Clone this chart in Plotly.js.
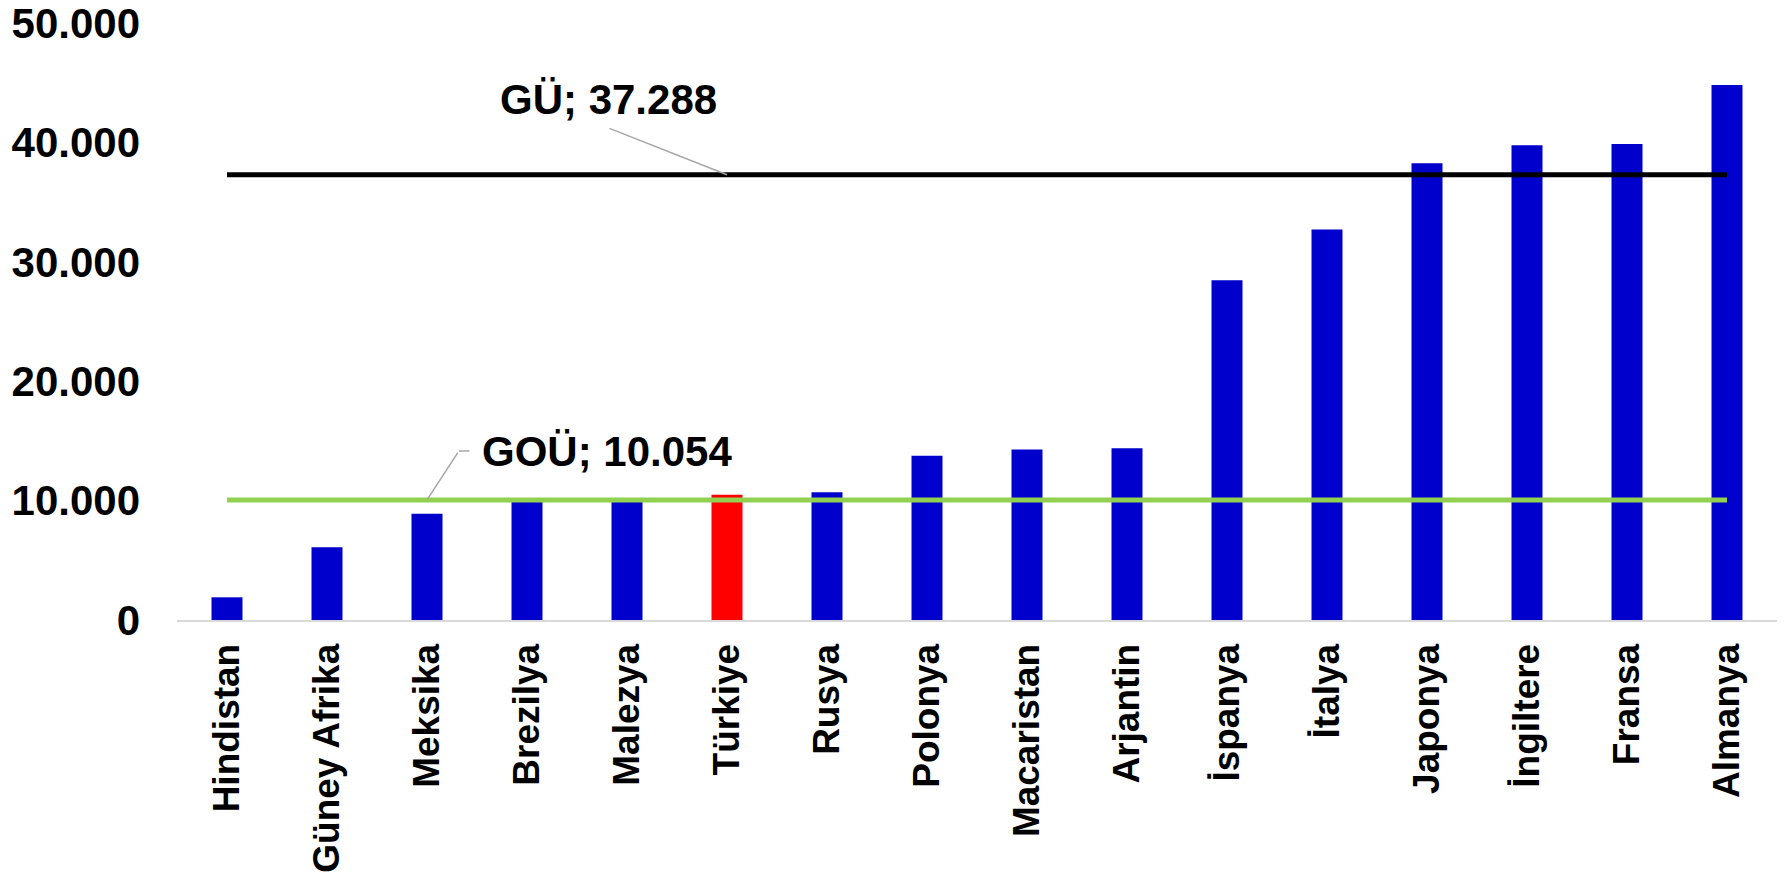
<!DOCTYPE html>
<html>
<head>
<meta charset="utf-8">
<script src="https://cdn.plot.ly/plotly-3.0.1.min.js"></script>
<style>
html,body{margin:0;padding:0;background:#fff;}
#chart{width:1785px;height:880px;}
</style>
</head>
<body>
<div id="chart"></div>
<script>
var countries = ["Hindistan","Güney Afrika","Meksika","Brezilya","Malezya","Türkiye","Rusya","Polonya","Macaristan","Arjantin","İspanya","İtalya","Japonya","İngiltere","Fransa","Almanya"];
var values = [1900, 6100, 8900, 10100, 10000, 10500, 10700, 13750, 14280, 14390, 28450, 32700, 38250, 39770, 39870, 44800];
var barColors = ["#0000CC","#0000CC","#0000CC","#0000CC","#0000CC","#FF0000","#0000CC","#0000CC","#0000CC","#0000CC","#0000CC","#0000CC","#0000CC","#0000CC","#0000CC","#0000CC"];
var guValue = 37288;   // GÜ
var gouValue = 10054;  // GOÜ
var guLabel = "GÜ; 37.288";
var gouLabel = "GOÜ; 10.054";
var yTickVals = [0, 10000, 20000, 30000, 40000, 50000];

var FONT = "Liberation Sans, Arial, sans-serif";
var first = countries[0], last = countries[countries.length - 1];

var traces = [
  {
    type: "bar", x: countries, y: values,
    marker: {color: barColors, line: {width: 0}},
    hoverinfo: "x+y", showlegend: false
  },
  {
    type: "scatter", mode: "lines", x: [first, last], y: [guValue, guValue],
    line: {color: "#000000", width: 5}, showlegend: false, hoverinfo: "skip"
  },
  {
    type: "scatter", mode: "lines", x: [first, last], y: [gouValue, gouValue],
    line: {color: "#92D050", width: 5}, showlegend: false, hoverinfo: "skip"
  }
];

var annFont = {family: FONT, size: 42, color: "#000000", weight: "bold"};
var layout = {
  width: 1785, height: 880,
  margin: {l: 177, r: 8, t: 23, b: 260, pad: 0},
  paper_bgcolor: "#ffffff", plot_bgcolor: "#ffffff",
  separators: ",.",
  bargap: 0.69,
  xaxis: {
    type: "category",
    tickangle: -90,
    tickfont: {family: FONT, size: 37, color: "#000000", weight: "bold"},
    showline: true, linecolor: "#D9D9D9", linewidth: 2,
    ticks: "", showgrid: false, zeroline: false,
    ticklabelstandoff: 7,
    ticklabeloverflow: "allow"
  },
  yaxis: {
    range: [0, 50000],
    tickvals: yTickVals,
    tickformat: ",d",
    tickfont: {family: FONT, size: 42, color: "#000000", weight: "bold"},
    showline: false, showgrid: false, zeroline: false, ticks: "",
    ticklabelstandoff: 36,
    ticklabeloverflow: "allow"
  },
  annotations: [
    {x: countries[5], y: guValue, xref: "x", yref: "y", text: guLabel,
     showarrow: false, font: annFont, xshift: -119, yshift: 75},
    {x: countries[5], y: guValue, xref: "x", yref: "y", text: " ",
     font: {size: 1}, showarrow: true, arrowhead: 0, arrowwidth: 1.5,
     arrowcolor: "#A6A6A6", ax: -119, ay: -47, standoff: 0, startstandoff: 0},
    {x: countries[5], y: gouValue, xref: "x", yref: "y", text: gouLabel,
     showarrow: false, font: annFont, xshift: -120, yshift: 48},
    {x: countries[2], y: gouValue, xref: "x", yref: "y", text: " ",
     font: {size: 1}, showarrow: true, arrowhead: 0, arrowwidth: 1.5,
     arrowcolor: "#A6A6A6", ax: 32, ay: -49, standoff: 0, startstandoff: 0},
    {x: countries[2], y: gouValue, xref: "x", yref: "y", text: " ",
     font: {size: 1}, showarrow: true, arrowhead: 0, arrowwidth: 1.5,
     arrowcolor: "#A6A6A6", ax: 12, ay: 0, xshift: 32, yshift: 49, standoff: 0, startstandoff: 0}
  ]
};

Plotly.newPlot("chart", traces, layout, {displayModeBar: false, staticPlot: true});
</script>
</body>
</html>
